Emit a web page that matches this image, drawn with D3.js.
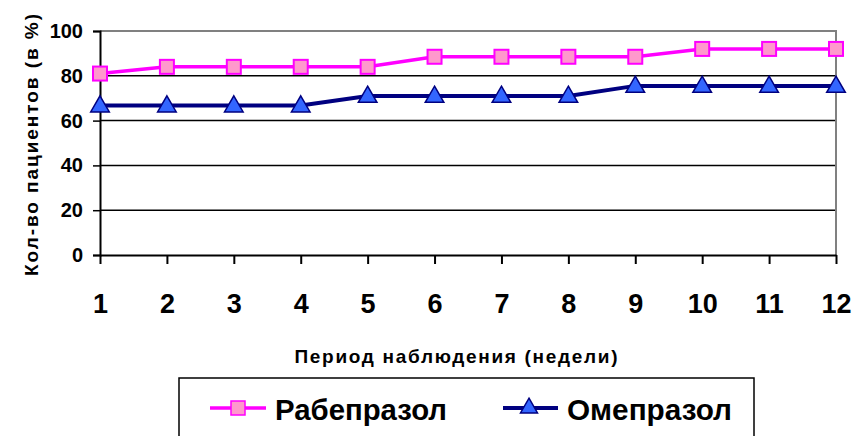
<!DOCTYPE html>
<html>
<head>
<meta charset="utf-8">
<script src="https://cdn.jsdelivr.net/npm/d3@7"></script>
<style>
  body { margin: 0; background: #fff; }
  text { font-family: Arial, "Liberation Sans", sans-serif; font-weight: bold; fill: #000; }
</style>
</head>
<body>
<div id="chartContainer"></div>
<script>
const width = 854;
const height = 436;
const marginTop = 31;
const marginBottom = 181;
const marginLeft = 100;
const marginRight = 18;

// data
const weeks = [1, 2, 3, 4, 5, 6, 7, 8, 9, 10, 11, 12];
const rabeprazol = [81, 84, 84, 84, 84, 88.5, 88.5, 88.5, 88.5, 92, 92, 92];
const omeprazol = [66.7, 66.7, 66.7, 66.7, 71, 71, 71, 71, 75.5, 75.5, 75.5, 75.5];
const yTicks = [0, 20, 40, 60, 80, 100];
const seriesNames = ["Рабепразол", "Омепразол"];

const svg = d3.select("#chartContainer")
    .append("svg")
    .attr("width", width)
    .attr("height", height);

const xScale = d3.scalePoint()
    .domain(weeks)
    .range([marginLeft, width - marginRight]);

const yScale = d3.scaleLinear()
    .domain([0, 100])
    .range([height - marginBottom, marginTop]);

// grid lines
svg.append("g")
    .selectAll("line")
    .data(yTicks.filter(d => d > 0 && d < 100))
    .join("line")
    .attr("x1", marginLeft)
    .attr("x2", width - marginRight)
    .attr("y1", d => yScale(d))
    .attr("y2", d => yScale(d))
    .attr("stroke", "#000")
    .attr("stroke-width", 1.5);

// plot border (top and right, gray)
svg.append("path")
    .attr("d", `M${marginLeft},${yScale(100)}H${width - marginRight}V${yScale(0)}`)
    .attr("fill", "none")
    .attr("stroke", "#808080")
    .attr("stroke-width", 2);

// y axis
const yAxis = svg.append("g")
    .attr("transform", `translate(${marginLeft}, 0)`)
    .call(d3.axisLeft(yScale).tickValues(yTicks).tickSize(7).tickPadding(10));
yAxis.select(".domain").attr("stroke", "#000").attr("stroke-width", 2);
yAxis.selectAll(".tick line").attr("stroke", "#000").attr("stroke-width", 1.5);
yAxis.selectAll(".tick text")
    .style("font-size", "20px")
    .style("font-family", "Arial, 'Liberation Sans', sans-serif")
    .style("font-weight", "bold")
    .attr("fill", "#000");

// x axis
const xAxis = svg.append("g")
    .attr("transform", `translate(0, ${yScale(0)})`)
    .call(d3.axisBottom(xScale).tickSize(9).tickPadding(0).tickSizeOuter(0));
xAxis.select(".domain").attr("stroke", "#000").attr("stroke-width", 2);
xAxis.selectAll(".tick line").attr("stroke", "#000").attr("stroke-width", 2);
xAxis.selectAll(".tick text")
    .attr("y", 58)
    .attr("dy", 0)
    .style("font-size", "27px")
    .style("font-family", "Arial, 'Liberation Sans', sans-serif")
    .style("font-weight", "bold")
    .attr("fill", "#000");

// axis titles
svg.append("text")
    .attr("x", 456)
    .attr("y", 363)
    .attr("text-anchor", "middle")
    .attr("textLength", 323)
    .attr("lengthAdjust", "spacing")
    .style("font-size", "19px")
    .text("Период наблюдения (недели)");

svg.append("text")
    .attr("transform", "translate(38, 145) rotate(-90)")
    .attr("text-anchor", "middle")
    .attr("textLength", 262)
    .attr("lengthAdjust", "spacing")
    .style("font-size", "19px")
    .text("Кол-во пациентов (в %)");

// lines
const line = d3.line()
    .x((d, i) => xScale(weeks[i]))
    .y(d => yScale(d));

svg.append("path")
    .datum(omeprazol)
    .attr("fill", "none")
    .attr("stroke", "#000080")
    .attr("stroke-width", 4)
    .attr("d", line);

svg.append("path")
    .datum(rabeprazol)
    .attr("fill", "none")
    .attr("stroke", "#ff00ff")
    .attr("stroke-width", 3.5)
    .attr("d", line);

const tri = d3.symbol().type(d3.symbolTriangle);

svg.append("g")
    .selectAll("path")
    .data(omeprazol)
    .join("path")
    .attr("transform", (d, i) => `translate(${xScale(weeks[i])}, ${yScale(d) + 1})`)
    .attr("d", tri.size(150))
    .attr("fill", "#3366ff")
    .attr("stroke", "#000080")
    .attr("stroke-width", 1.5);

svg.append("g")
    .selectAll("rect")
    .data(rabeprazol)
    .join("rect")
    .attr("x", (d, i) => xScale(weeks[i]) - 7)
    .attr("y", d => yScale(d) - 7)
    .attr("width", 14)
    .attr("height", 14)
    .attr("fill", "#ff99cc")
    .attr("stroke", "#ff00ff")
    .attr("stroke-width", 2);

// legend
svg.append("rect")
    .attr("x", 179)
    .attr("y", 378)
    .attr("width", 575)
    .attr("height", 90)
    .attr("fill", "#fff")
    .attr("stroke", "#000")
    .attr("stroke-width", 1.5);

const legend = svg.append("g");

legend.append("line")
    .attr("x1", 210).attr("x2", 266)
    .attr("y1", 408).attr("y2", 408)
    .attr("stroke", "#ff00ff").attr("stroke-width", 3.5);
legend.append("rect")
    .attr("x", 231).attr("y", 401)
    .attr("width", 14).attr("height", 14)
    .attr("fill", "#ff99cc").attr("stroke", "#ff00ff").attr("stroke-width", 1.5);
legend.append("text")
    .attr("x", 275).attr("y", 420)
    .attr("textLength", 172)
    .attr("lengthAdjust", "spacingAndGlyphs")
    .style("font-size", "30px")
    .text(seriesNames[0]);

legend.append("line")
    .attr("x1", 503).attr("x2", 558)
    .attr("y1", 408).attr("y2", 408)
    .attr("stroke", "#000080").attr("stroke-width", 4);
legend.append("path")
    .attr("transform", "translate(529, 408)")
    .attr("d", tri.size(125))
    .attr("fill", "#3366ff")
    .attr("stroke", "#000080")
    .attr("stroke-width", 1.5);
legend.append("text")
    .attr("x", 567).attr("y", 420)
    .attr("textLength", 165)
    .attr("lengthAdjust", "spacingAndGlyphs")
    .style("font-size", "30px")
    .text(seriesNames[1]);
</script>
</body>
</html>
